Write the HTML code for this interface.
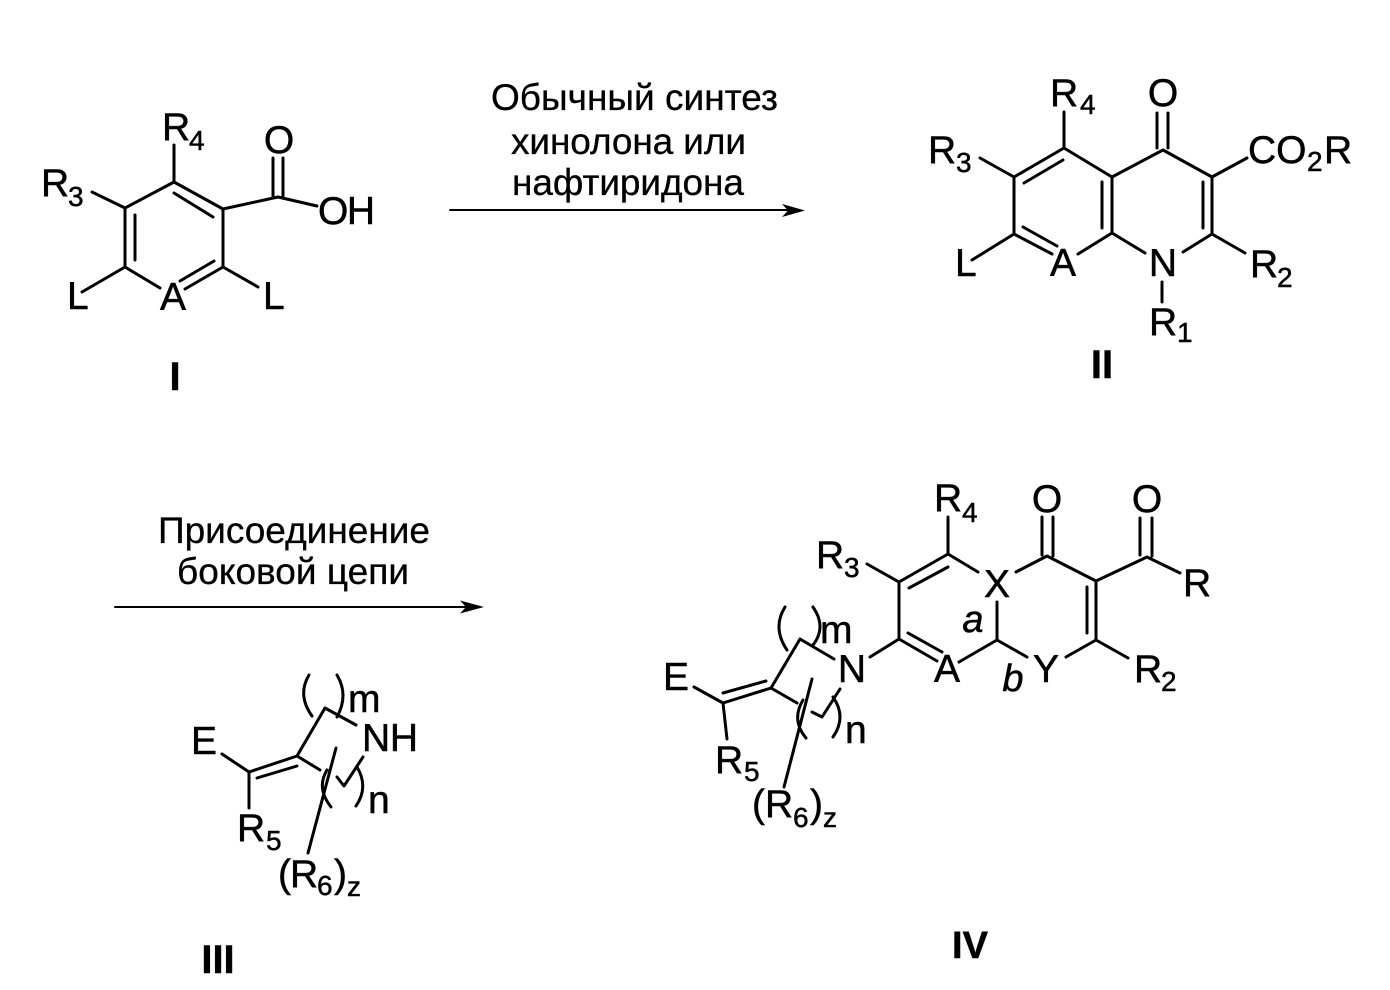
<!DOCTYPE html>
<html lang="ru">
<head>
<meta charset="utf-8">
<title>Схема синтеза</title>
<style>
html,body{margin:0;padding:0;background:#fff;width:1390px;height:990px;overflow:hidden}
svg{display:block}
text{font-family:"Liberation Sans",sans-serif;fill:#000;stroke:#000;stroke-width:.5}
.t{font-size:39px}
.s{font-size:28px}
.c{font-size:37px;stroke-width:.3}
.b{font-size:40px;font-weight:bold}
.i{font-size:38px;font-style:italic}
.m{text-anchor:middle}
path,line{stroke:#000;stroke-width:3;fill:none;stroke-linecap:round;stroke-linejoin:round}
</style>
</head>
<body>
<svg width="1390" height="990" viewBox="0 0 1390 990" xmlns="http://www.w3.org/2000/svg">
<rect width="1390" height="990" fill="#fff"/>

<!-- Structure I -->
<path d="M174 145V182L125 208V267L160 288M92 192L125 208M125 267L82 292M174 182L223 209V267L185 289M223 267L258 287M174 193L213 217M135 215V260M214 261L180 281M223 209L278 197L317 206M273 158V197M283 158V197"/>
<text class="t" x="162" y="140">R</text><text class="s" x="189" y="150">4</text>
<text class="t m" x="279" y="153">O</text>
<text class="t" x="41" y="196">R</text><text class="s" x="68" y="206">3</text>
<text class="t" x="318" y="224" textLength="57">OH</text>
<text class="t" x="67" y="309">L</text>
<text class="t m" x="173" y="310">A</text>
<text class="t" x="263" y="309">L</text>
<text class="b m" x="175" y="390">I</text>

<!-- Reaction 1 -->
<text class="c" x="491" y="110" textLength="287">Обычный синтез</text>
<text class="c" x="511" y="154" textLength="235">хинолона или</text>
<text class="c" x="512" y="195" textLength="232">нафтиридона</text>
<line x1="450" y1="210" x2="795" y2="210" style="stroke-width:2"/>
<polygon points="805,210.500 782,204 788,210.500 782,217" fill="#000"/>

<!-- Structure II -->
<path d="M1064 112V148L1014 177V234L1052 254M980 158L1014 177M1064 148L1112 177V233L1078 254M1063 160L1024 183M1102 182V228M1023 227L1057 246M1014 234L972 260M1112 233L1145 253M1183 252L1212 234L1245 253M1212 234V177L1163 150L1112 177M1203 182V228M1212 177L1247 158M1157 113V148M1168 113V148M1162 282V302"/>
<text class="t" x="1050" y="106">R</text><text class="s" x="1080" y="114">4</text>
<text class="t m" x="1163" y="106">O</text>
<text class="t" x="928" y="163">R</text><text class="s" x="956" y="172">3</text>
<text class="t" x="1248" y="163">CO</text><text class="s" x="1307" y="171">2</text><text class="t" x="1324" y="163">R</text>
<text class="t" x="955" y="276">L</text>
<text class="t m" x="1063" y="276">A</text>
<text class="t m" x="1163" y="276">N</text>
<text class="t" x="1250" y="277">R</text><text class="s" x="1277" y="287">2</text>
<text class="t" x="1149" y="335">R</text><text class="s" x="1177" y="342">1</text>
<text class="b m" x="1102" y="378">II</text>

<!-- Reaction 2 -->
<text class="c" x="158" y="543" textLength="272">Присоединение</text>
<text class="c" x="177" y="584" textLength="232">боковой цепи</text>
<line x1="115" y1="607" x2="472" y2="607" style="stroke-width:2"/>
<polygon points="484,607 460,600.500 466,607 460,613.500" fill="#000"/>

<!-- Structure III -->
<path d="M222 754L249 772L297 756M257 778L297 766M249 772V808M297 756L325 708L356 725M297 756L320 770M337 777L344 786L363 757M336 748L308 853M309 675Q297 695 312 716M337 675Q349 695 337 717M327 770Q316 788 331 807M357 767Q369 787 356 806"/>
<text class="t" x="191" y="754">E</text>
<text class="t" x="348" y="712">m</text>
<text class="t" x="362" y="751" textLength="56">NH</text>
<text class="t" x="368" y="813">n</text>
<text class="t" x="237" y="841">R</text><text class="s" x="266" y="850">5</text>
<text class="t" x="278" y="887">(</text><text class="t" x="290" y="887">R</text><text class="s" x="317" y="895">6</text><text class="t" x="334" y="887">)</text><text class="s" x="347" y="896">z</text>
<text class="b m" x="218" y="973">III</text>

<!-- Structure IV -->
<path d="M948 517V554L899 582V639L937 661M867 564L899 582M948 567L909 588M948 554L978 572M1016 572L1047 556L1096 581V640L1128 658M1096 640L1066 657M1087 587V633M1042 517V555M1053 517V556M1096 581L1147 557L1180 573M1140 518V555M1152 518V556M1027 657L997 640L959 662M997 602V640M908 633L942 652M899 639L870 657M834 659L800 639L771 688L723 703M766 681L723 693M694 687L723 703L727 739M771 688L797 703M812 712L822 717L840 689M812 679L784 787M785 607Q772 628 787 650M813 607Q827 627 813 645M803 700Q791 720 806 738M833 697Q847 717 833 737"/>
<text class="t" x="934" y="511">R</text><text class="s" x="962" y="522">4</text>
<text class="t m" x="1047" y="512">O</text>
<text class="t m" x="1147" y="512">O</text>
<text class="t" x="816" y="568">R</text><text class="s" x="844" y="577">3</text>
<text class="t m" x="997" y="597">X</text>
<text class="t" x="1183" y="596">R</text>
<text class="i m" x="973" y="632">a</text>
<text class="i m" x="1013" y="691">b</text>
<text class="t m" x="947" y="682">A</text>
<text class="t m" x="1046" y="682">Y</text>
<text class="t m" x="852" y="682">N</text>
<text class="t" x="820" y="643">m</text>
<text class="t" x="663" y="690">E</text>
<text class="t" x="845" y="743">n</text>
<text class="t" x="1134" y="682">R</text><text class="s" x="1161" y="691">2</text>
<text class="t" x="715" y="773">R</text><text class="s" x="744" y="781">5</text>
<text class="t" x="752" y="817">(</text><text class="t" x="765" y="817">R</text><text class="s" x="793" y="827">6</text><text class="t" x="810" y="817">)</text><text class="s" x="823" y="827">z</text>
<text class="b m" x="970" y="958" style="font-size:38px">IV</text>
</svg>
</body>
</html>
